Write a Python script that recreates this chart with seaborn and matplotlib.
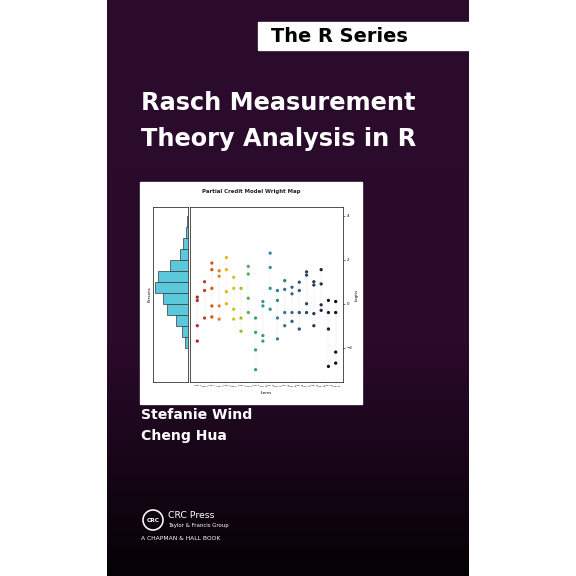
import numpy as np
import matplotlib
matplotlib.use("Agg")
import matplotlib.pyplot as plt
import seaborn as sns
import pandas as pd
from matplotlib.colors import LinearSegmentedColormap

items = [f"Item {i}" for i in range(1, 21)]
thresholds = [
    [0.3, 0.15, -1.0, -1.7], [1.0, 0.6, -0.65], [1.85, 1.55, 0.7, -0.1, -0.6],
    [1.5, 1.25, -0.1, -0.7], [2.1, 1.55, 0.55, 0.0], [1.2, 0.7, -0.25, -0.7],
    [0.7, -0.65, -1.25], [1.7, 1.35, 0.25, -0.4], [-0.65, -1.3, -2.1, -3.0],
    [0.1, -0.1, -1.45, -1.7], [2.3, 1.65, 0.7, -0.25], [0.6, 0.15, -0.65, -1.6],
    [1.05, 0.65, -0.4, -1.0], [0.75, 0.45, -0.4, -0.8], [0.98, 0.6, -0.4, -1.15],
    [1.45, 1.3, 0.0, -0.4], [1.0, 0.85, -0.45, -1.0], [1.55, 0.9, -0.05, -0.3],
    [0.15, -0.4, -1.15, -2.85], [0.1, -0.4, -2.2, -2.7]]
bin_edges = [-2.0, -1.5, -1.0, -0.5, 0.0, 0.5, 1.0, 1.5, 2.0, 2.5, 3.0, 3.5, 4.0]
bin_counts = [10, 20, 40, 68, 82, 108, 100, 60, 25, 15, 5, 3]
item_colors = ["#b22222", "#c0392b", "#d35400", "#e67e22", "#f0b400", "#d4c21a",
               "#a8b820", "#5aa85a", "#2e9e6e", "#2a9a8a", "#258f96", "#2a8090",
               "#2c6f88", "#2d5e7e", "#2b4d70", "#273d60", "#222e4e", "#1a1f38",
               "#111122", "#050505"]

W = 576
def fx(p): return p / W
def fy(p): return 1 - p / W

fig = plt.figure(figsize=(6, 6), dpi=96)
fig.patch.set_facecolor("white")

bg = fig.add_axes([fx(107), 0, fx(469 - 107), 1], zorder=-10)
grad = np.linspace(0, 1, 256)[:, None]
cm = LinearSegmentedColormap.from_list("c", [(0, "#2c0c2c"), (0.6, "#2a0a2a"), (1, "#050205")])
bg.imshow(grad, aspect="auto", cmap=cm, extent=[0, 1, 0, 1])
bg.axis("off")

fig.patches.append(plt.Rectangle((fx(258), fy(50)), fx(469 - 258), fx(28),
                                 transform=fig.transFigure, color="white", zorder=-5))
fig.text(fx(271), fy(36), "The R Series", fontsize=14.5, fontweight="bold", color="black", va="center")
fig.text(fx(141), fy(103), "Rasch Measurement", fontsize=18, fontweight="bold", color="white", va="center")
fig.text(fx(141), fy(139), "Theory Analysis in R", fontsize=18, fontweight="bold", color="white", va="center")
fig.text(fx(141), fy(415), "Stefanie Wind", fontsize=10.5, fontweight="bold", color="white", va="center")
fig.text(fx(141), fy(436), "Cheng Hua", fontsize=10.5, fontweight="bold", color="white", va="center")
fig.text(fx(168), fy(515), "CRC Press", fontsize=7, color="white", va="center")
fig.text(fx(168), fy(525), "Taylor & Francis Group", fontsize=4, color="white", va="center")
fig.text(fx(141), fy(539), "A CHAPMAN & HALL BOOK", fontsize=4.5, color="white", va="center")
fig.patches.append(matplotlib.patches.Circle((fx(153), fy(520)), fx(10), transform=fig.transFigure,
                                             facecolor="none", edgecolor="white", lw=1.2))
fig.text(fx(153), fy(520), "CRC", fontsize=4.5, fontweight="bold", color="white", ha="center", va="center")

fig.patches.append(plt.Rectangle((fx(140), fy(404)), fx(222), fx(222),
                                 transform=fig.transFigure, color="white", zorder=-5))
fig.text(fx(251), fy(192), "Partial Credit Model Wright Map", fontsize=4, fontweight="bold",
         ha="center", va="center", color="#222222")

ylim = (-3.56, 4.4)
hax = fig.add_axes([fx(153), fy(382), fx(35), fx(175)], zorder=2)
hax.barh(bin_edges[:-1], bin_counts, height=0.5, align="edge", color="#5bc8dc", edgecolor="#333333", lw=0.5)
hax.set_xlim(115, 0)
hax.set_ylim(*ylim)
hax.set_xticks([]); hax.set_yticks([])
hax.set_ylabel("Persons", fontsize=3, labelpad=1)
for s in hax.spines.values(): s.set_linewidth(0.5)

sax = fig.add_axes([fx(190), fy(382), fx(153), fx(175)], zorder=2)
rows = [(i, v) for i, vals in enumerate(thresholds) for v in vals]
df = pd.DataFrame(rows, columns=["item", "logit"])
for i, vals in enumerate(thresholds):
    sax.plot([i, i], [min(vals), max(vals)], color="#bbbbbb", lw=0.3, ls=":")
sns.scatterplot(data=df, x="item", y="logit", hue="item", palette=item_colors, s=6,
                legend=False, ax=sax, edgecolor="none")
sax.set_xlim(-1, 20)
sax.set_ylim(*ylim)
sax.yaxis.tick_right()
sax.set_yticks([4, 2, 0, -2])
sax.tick_params(axis="y", labelsize=3, length=1.5, width=0.4, pad=1)
sax.set_xticks(range(20))
sax.set_xticklabels([lab if k % 2 == 0 else "\n" + lab for k, lab in enumerate(items)],
                    fontsize=1.6, rotation=0)
sax.tick_params(axis="x", length=1, width=0.3, pad=1)
sax.yaxis.set_label_position("right")
sax.set_ylabel("Logits", fontsize=3, labelpad=2)
sax.set_xlabel("Items", fontsize=3, labelpad=3)
for s in sax.spines.values(): s.set_linewidth(0.5)

fig.savefig("out.png", dpi=96)
